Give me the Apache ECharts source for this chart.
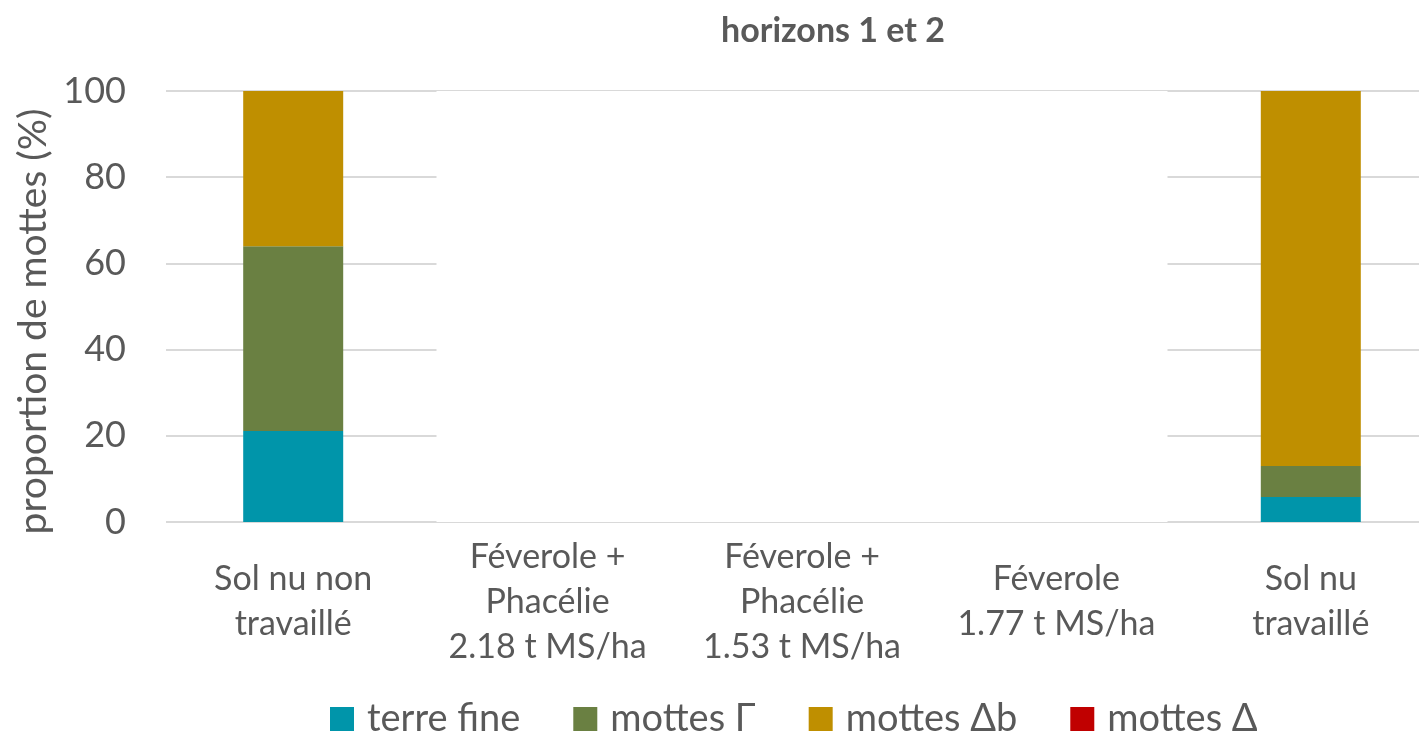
<!DOCTYPE html>
<html>
<head>
<meta charset="utf-8">
<script src="https://cdn.jsdelivr.net/npm/echarts@6/dist/echarts.min.js"></script>
<style>html,body{margin:0;padding:0;background:#fff;overflow:hidden;width:1419px;height:734px;}#c{width:1438px;height:760px;}</style>
</head>
<body>
<div id="c"></div>
<script>
const categories = ['Sol nu non\ntravaillé', 'Féverole +\nPhacélie\n2.18 t MS/ha', 'Féverole +\nPhacélie\n1.53 t MS/ha', 'Féverole\n1.77 t MS/ha', 'Sol nu\ntravaillé'];
const terreFine = [21.1, null, null, null, 5.8];
const mottesGamma = [42.9, null, null, null, 7.2];
const mottesDeltaB = [36.0, null, null, null, 87.0];
const mottesDelta = [0, null, null, null, 0];
const yTicks = [0, 20, 40, 60, 80, 100];
// blank panel hiding the gridlines over the three middle categories
const blankPanel = [null, null, 100, null, null];

const FONT = 'Lato';
const GREY = '#595959';
const chart = echarts.init(document.getElementById('c'), null, {renderer: 'canvas'});
const mk = (name, data, color) => ({
  name, type: 'bar', stack: 'total', data, barWidth: 100,
  itemStyle: {color}, xAxisIndex: 0, z: 3
});
chart.setOption({
  animation: false,
  backgroundColor: '#fff',
  textStyle: {fontFamily: FONT},
  title: {
    text: 'horizons 1 et 2', left: 716, top: 9,
    textStyle: {fontFamily: FONT, fontSize: 34, fontWeight: 'bold', color: GREY}
  },
  legend: {
    top: 693, left: 325, padding: 5, icon: 'rect', itemWidth: 24, itemHeight: 24, itemGap: 53,
    textStyle: {fontFamily: FONT, fontSize: 38, lineHeight: 42, color: GREY, padding: [0, 0, 0, 8]},
    data: ['terre fine', 'mottes Γ', 'mottes Δb', 'mottes Δ']
  },
  grid: {left: 166, right: 0, top: 91, bottom: 238, containLabel: false},
  xAxis: [{
    type: 'category', data: categories,
    axisLine: {show: false}, axisTick: {show: false},
    axisLabel: {fontFamily: FONT, fontSize: 34, lineHeight: 45, color: GREY, interval: 0, margin: 80, verticalAlign: 'middle'}
  }, {
    type: 'category', data: categories, show: false
  }],
  yAxis: {
    type: 'value', min: yTicks[0], max: yTicks[yTicks.length - 1], interval: 20,
    axisLine: {show: false}, axisTick: {show: false},
    axisLabel: {fontFamily: FONT, fontSize: 36, color: GREY, margin: 40},
    splitLine: {lineStyle: {color: '#D9D9D9', width: 2}},
    name: 'proportion de mottes (%)', nameLocation: 'middle', nameGap: 112,
    nameTextStyle: {fontFamily: FONT, fontSize: 39, color: GREY, padding: [0, 30, 0, 0]}
  },
  series: [
    {type: 'bar', xAxisIndex: 1, data: blankPanel, barWidth: 731, clip: false, silent: true,
     itemStyle: {color: '#fff', borderColor: '#fff', borderWidth: 4}, z: 1, legendHoverLink: false},
    mk('terre fine', terreFine, '#0095AA'),
    mk('mottes Γ', mottesGamma, '#6A8042'),
    mk('mottes Δb', mottesDeltaB, '#BF8F00'),
    mk('mottes Δ', mottesDelta, '#C00000')
  ]
});
</script>
</body>
</html>
